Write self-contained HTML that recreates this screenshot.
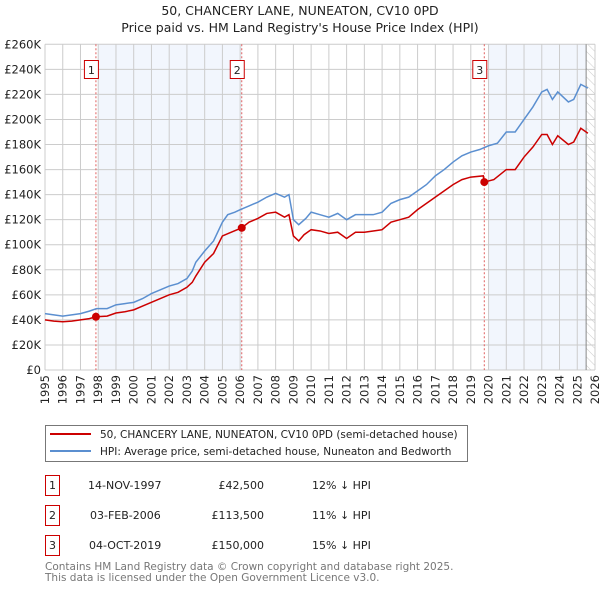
<!DOCTYPE html>
<html><head><meta charset="utf-8"><style>
body{margin:0;background:#fff;font-family:"DejaVu Sans","Liberation Sans",sans-serif;}
svg text{font-family:"DejaVu Sans","Liberation Sans",sans-serif;}
</style></head><body>
<svg id="chart" width="600" height="590" viewBox="0 0 600 590" xmlns="http://www.w3.org/2000/svg">
<defs><pattern id="hatch" width="6" height="6" patternUnits="userSpaceOnUse" patternTransform="rotate(-45)"><line x1="0" y1="0" x2="0" y2="6" stroke="#ccc" stroke-width="1"/></pattern></defs>
<text x="300" y="15" text-anchor="middle" font-size="12.5" fill="#222">50, CHANCERY LANE, NUNEATON, CV10 0PD</text>
<text x="300" y="32" text-anchor="middle" font-size="12.5" fill="#222">Price paid vs. HM Land Registry's House Price Index (HPI)</text>
<g id="plot"></g>
<g>
<rect x="45.5" y="425.5" width="422" height="36" fill="#fff" stroke="#777"/>
<line x1="50" y1="434" x2="91" y2="434" stroke="#cc0000" stroke-width="2"/>
<text x="100" y="438" font-size="10.5" fill="#222">50, CHANCERY LANE, NUNEATON, CV10 0PD (semi-detached house)</text>
<line x1="50" y1="451" x2="91" y2="451" stroke="#5b8fd0" stroke-width="2"/>
<text x="100" y="455" font-size="10.5" fill="#222">HPI: Average price, semi-detached house, Nuneaton and Bedworth</text>
</g>
<g font-size="11" fill="#222">
<rect x="45.5" y="475.5" width="14" height="20" fill="#fff" stroke="#cc0000"/><text x="52.5" y="489" text-anchor="middle">1</text>
<text x="88" y="489">14-NOV-1997</text><text x="264" y="489" text-anchor="end">£42,500</text><text x="312" y="489">12% ↓ HPI</text>
<rect x="45.5" y="505.5" width="14" height="20" fill="#fff" stroke="#cc0000"/><text x="52.5" y="519" text-anchor="middle">2</text>
<text x="90" y="519">03-FEB-2006</text><text x="264" y="519" text-anchor="end">£113,500</text><text x="312" y="519">11% ↓ HPI</text>
<rect x="45.5" y="535.5" width="14" height="20" fill="#fff" stroke="#cc0000"/><text x="52.5" y="549" text-anchor="middle">3</text>
<text x="89" y="549">04-OCT-2019</text><text x="264" y="549" text-anchor="end">£150,000</text><text x="312" y="549">15% ↓ HPI</text>
</g>
<text x="45" y="570" font-size="10.5" fill="#777">Contains HM Land Registry data © Crown copyright and database right 2025.</text>
<text x="45" y="581" font-size="10.5" fill="#777">This data is licensed under the Open Government Licence v3.0.</text>
</svg>
<script>
const hpiYears=[1995,1995.5,1996,1996.5,1997,1997.5,1997.9,1998.5,1999,1999.5,2000,2000.5,2001,2001.5,2002,2002.5,2003,2003.3,2003.5,2004,2004.5,2005,2005.3,2005.7,2006,2006.5,2007,2007.5,2008,2008.5,2008.75,2009,2009.3,2009.7,2010,2010.5,2011,2011.5,2012,2012.5,2013,2013.5,2014,2014.5,2015,2015.5,2016,2016.5,2017,2017.5,2018,2018.5,2019,2019.5,2020,2020.5,2021,2021.5,2022,2022.5,2023,2023.3,2023.6,2023.9,2024.5,2024.8,2025.2,2025.6];
const hpiValues=[45,44,43,44,45,47,49,49,52,53,54,57,61,64,67,69,73,79,86,95,103,118,124,126,128,131,134,138,141,138,140,120,116,121,126,124,122,125,120,124,124,124,126,133,136,138,143,148,155,160,166,171,174,176,179,181,190,190,200,210,222,224,216,222,214,216,228,225];
const ppYears=[1995,1995.5,1996,1996.5,1997,1997.5,1997.87,1998.5,1999,1999.5,2000,2000.5,2001,2001.5,2002,2002.5,2003,2003.3,2003.5,2004,2004.5,2005,2005.5,2006.09,2006.5,2007,2007.5,2008,2008.5,2008.75,2009,2009.3,2009.6,2010,2010.5,2011,2011.5,2012,2012.5,2013,2013.5,2014,2014.5,2015,2015.5,2016,2016.5,2017,2017.5,2018,2018.5,2019,2019.7,2019.76,2020.3,2021,2021.5,2022,2022.5,2023,2023.3,2023.6,2023.9,2024.5,2024.8,2025.2,2025.6];
const ppValues=[40,39,38.5,39,40,41,42.5,43,45.5,46.5,48,51,54,57,60,62,66,70,75,86,93,107,110,113.5,118,121,125,126,122,124,107,103,108,112,111,109,110,105,110,110,111,112,118,120,122,128,133,138,143,148,152,154,155,150,152,160,160,170,178,188,188,180,187,180,182,193,189];
const saleYears=[1997.87,2006.09,2019.76];
const saleValues=[42.5,113.5,150];
const saleLabels=["1","2","3"];
const yTicks=[0,20,40,60,80,100,120,140,160,180,200,220,240,260];
const yTickLabels=["£0","£20K","£40K","£60K","£80K","£100K","£120K","£140K","£160K","£180K","£200K","£220K","£240K","£260K"];
const xTicks=[1995,1996,1997,1998,1999,2000,2001,2002,2003,2004,2005,2006,2007,2008,2009,2010,2011,2012,2013,2014,2015,2016,2017,2018,2019,2020,2021,2022,2023,2024,2025,2026];
const NS="http://www.w3.org/2000/svg";
const X0=45,X1=595,Y0=370,Y1=44.3;
const xs=y=>X0+(y-1995)/(2026-1995)*(X1-X0);
const ys=v=>Y0-v/260*(Y0-Y1);
const g=document.getElementById('plot');
function mk(t,a){const e=document.createElementNS(NS,t);for(const k in a)e.setAttribute(k,a[k]);g.appendChild(e);return e;}
let e;
e=mk('rect',{x:xs(1998),y:Y1,width:xs(2006.09)-xs(1998),height:Y0-Y1,fill:'#f2f6fd'});


e=mk('rect',{x:xs(2020),y:Y1,width:xs(2025.5)-xs(2020),height:Y0-Y1,fill:'#f2f6fd'});


e=mk('rect',{x:xs(2025.5),y:Y1,width:X1-xs(2025.5),height:Y0-Y1,fill:'url(#hatch)'});


yTicks.forEach((v,i)=>{
 e=mk('line',{x1:X0,x2:X1,y1:ys(v),y2:ys(v),stroke:'#ccc','stroke-width':1});
 
 
 e=mk('text',{x:X0-4,y:ys(v)+4,'text-anchor':'end','font-size':'11.5',fill:'#222'});
 e.textContent=yTickLabels[i];
 
 
});
xTicks.forEach(yr=>{
 e=mk('line',{x1:xs(yr),x2:xs(yr),y1:Y1,y2:Y0,stroke:'#ccc','stroke-width':1});
 
 
 e=mk('text',{x:0,y:0,'text-anchor':'end','font-size':'11.5',fill:'#222',transform:`translate(${xs(yr)+4},${Y0+5}) rotate(-90)`});
 e.textContent=yr;
 
 
});
e=mk('line',{x1:xs(2025.5),x2:xs(2025.5),y1:Y1,y2:Y0,stroke:'#888','stroke-width':1});


saleYears.forEach((yr,i)=>{
 e=mk('line',{x1:xs(yr),x2:xs(yr),y1:Y1,y2:Y0,stroke:'#e06060','stroke-width':1,'stroke-dasharray':'2,2'});
 
 
 e=mk('rect',{x:xs(yr)-11.5,y:60.5,width:14,height:18,fill:'#fff',stroke:'#cc0000'});
 
 
 e=mk('text',{x:xs(yr)-4.5,y:74,'text-anchor':'middle','font-size':'11',fill:'#222'});
 e.textContent=saleLabels[i];
 
 
});
e=mk('polyline',{points:hpiYears.map((y,i)=>xs(y)+','+ys(hpiValues[i])).join(' '),fill:'none',stroke:'#5b8fd0','stroke-width':1.5});


e=mk('polyline',{points:ppYears.map((y,i)=>xs(y)+','+ys(ppValues[i])).join(' '),fill:'none',stroke:'#cc0000','stroke-width':1.5});


saleYears.forEach((yr,i)=>{
 e=mk('circle',{cx:xs(yr),cy:ys(saleValues[i]),r:4,fill:'#cc0000'});
 
 
});
</script>
</body></html>
